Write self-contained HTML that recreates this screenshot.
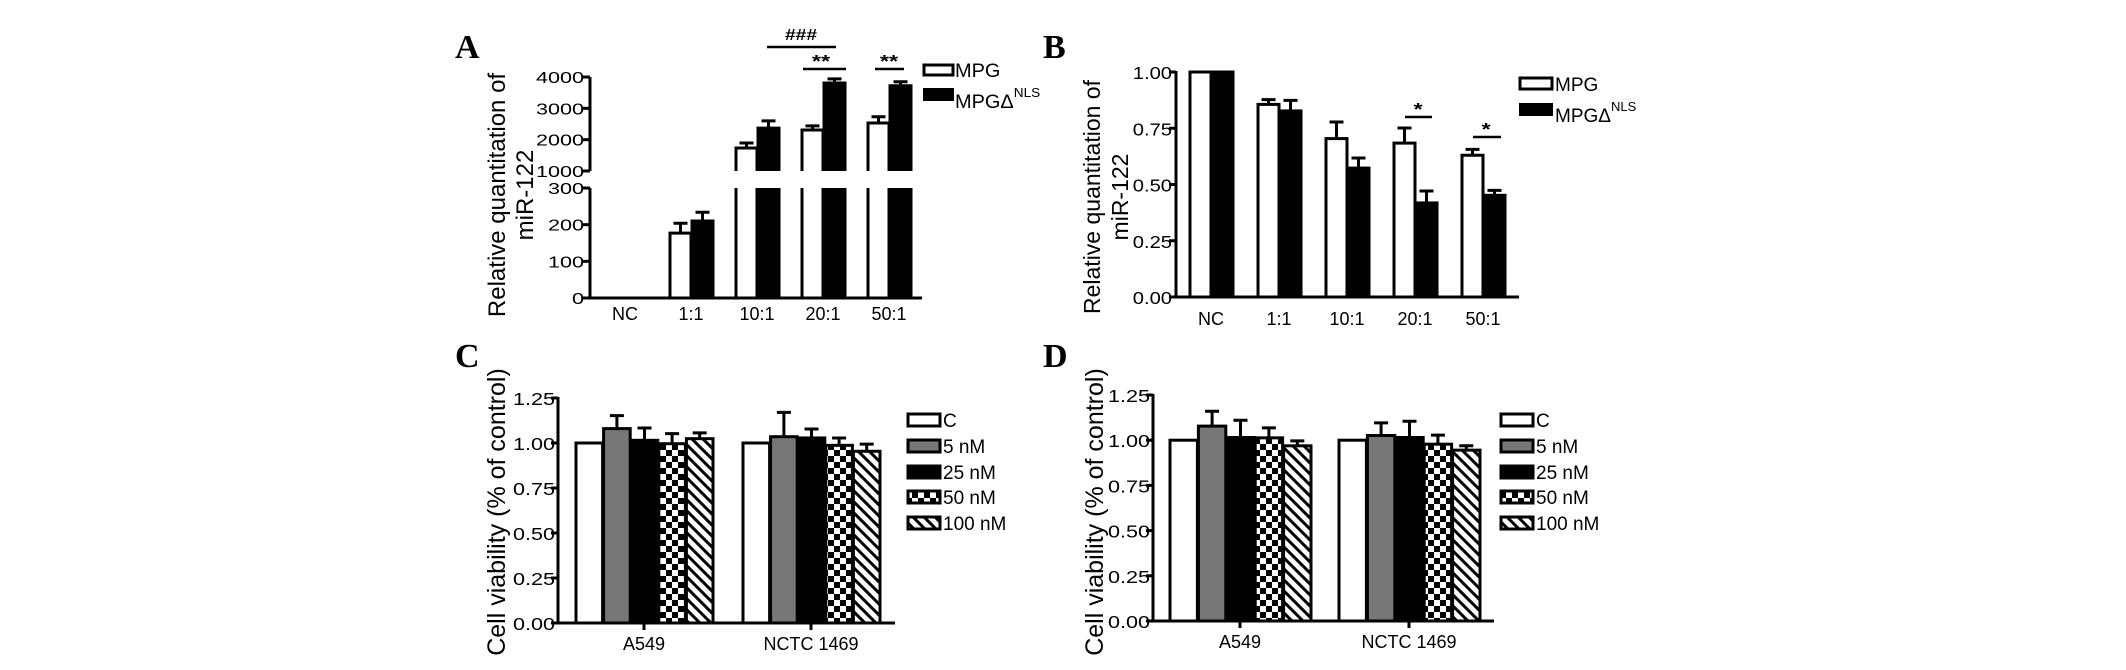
<!DOCTYPE html>
<html><head><meta charset="utf-8"><style>
html,body{margin:0;padding:0;background:#fff;}
svg{display:block;font-family:"Liberation Sans",Arial,sans-serif;}
.lbl{font-family:"Liberation Serif",serif;font-weight:bold;font-size:34px;}
</style></head><body>
<svg id="fig" width="2126" height="670" viewBox="0 0 2126 670" xmlns="http://www.w3.org/2000/svg">
<defs>
<pattern id="checker" patternUnits="userSpaceOnUse" width="12" height="12"><rect width="12" height="12" fill="#fff"/><rect width="6" height="6" fill="#000"/><rect x="6" y="6" width="6" height="6" fill="#000"/></pattern>
<pattern id="hatch" patternUnits="userSpaceOnUse" width="11" height="11"><rect width="11" height="11" fill="#fff"/><path d="M-2,-2 L13,13 M-2,9 L2,13 M9,-2 L13,2" stroke="#000" stroke-width="3"/></pattern>
</defs>
<text class="lbl" x="455" y="58">A</text>
<text class="lbl" x="1043" y="58">B</text>
<text class="lbl" x="455" y="367">C</text>
<text class="lbl" x="1043" y="367">D</text>
</svg>
<script>
const NS='http://www.w3.org/2000/svg';
const svg=document.getElementById('fig');
function el(tag,attrs,parent){const e=document.createElementNS(NS,tag);for(const k in attrs)e.setAttribute(k,attrs[k]);(parent||svg).appendChild(e);return e;}
function txt(s,x,y,size,anchor,sx,parent){const g=el('g',{transform:`translate(${x},${y}) scale(${sx||1},1)`},parent);const t=el('text',{x:0,y:0,'font-size':size,'text-anchor':anchor||'start'},g);t.textContent=s;return t;}
function sup(t,s,size,dy){const ts=el('tspan',{'font-size':size,dy:dy},t);ts.textContent=s;return ts;}

// ---------- Panel A data ----------
const catsA=['NC','1:1','10:1','20:1','50:1'];
const mpgA=[0,177,1735,2310,2530];
const mpgErrA=[0,27,160,130,200];
const nlsA=[0,210,2370,3810,3720];
const nlsErrA=[0,24,230,130,130];
const ticksLowA=[0,100,200,300];
const ticksHighA=[1000,2000,3000,4000];
// ---------- Panel B data ----------
const catsB=['NC','1:1','10:1','20:1','50:1'];
const mpgB=[1.0,0.856,0.704,0.684,0.630];
const mpgErrB=[0,0.021,0.074,0.067,0.026];
const nlsB=[1.0,0.827,0.573,0.418,0.452];
const nlsErrB=[0,0.047,0.045,0.053,0.022];
const ticksB=[0,0.25,0.5,0.75,1.0];
// ---------- Panel C data ----------
const groupsC=['A549','NCTC 1469'];
const seriesNames=['C','5 nM','25 nM','50 nM','100 nM'];
const valsC=[[1.0,1.08,1.015,0.996,1.024],[1.0,1.035,1.028,0.987,0.954]];
const errsC=[[0,0.072,0.068,0.056,0.032],[0,0.135,0.05,0.041,0.04]];
// ---------- Panel D data ----------
const groupsD=['A549','NCTC 1469'];
const valsD=[[1.0,1.078,1.015,1.013,0.969],[1.0,1.026,1.015,0.978,0.945]];
const errsD=[[0,0.082,0.095,0.055,0.027],[0,0.07,0.09,0.05,0.024]];
const ticksCD=[0,0.25,0.5,0.75,1.0,1.25];

const fills=['#fff','#777','#000','url(#checker)','url(#hatch)'];

function errBar(g,cx,yTop,yErr,name){
  const l=el('path',{d:`M${cx},${yTop} V${yErr} M${cx-7},${yErr} H${cx+7}`,stroke:'#000','stroke-width':3,fill:'none'},g);
  
  
}

// ================= Panel A =================
(function(){
  const g=el('g',{});
  
  
  const ax=590, y0=298, lowTop=188, hiBase=171, hiTop=77;
  const y=v=> v<=300 ? y0-(v/300)*(y0-lowTop) : hiBase-((v-1000)/3000)*(hiBase-hiTop);
  const cx=i=>625+i*66;
  const bw=22;
  catsA.forEach((c,i)=>{
    [[mpgA,mpgErrA,'#fff','mpg'],[nlsA,nlsErrA,'#000','mpg-nls']].forEach((s,k)=>{
      const v=s[0][i]; if(v<=0) return;
      const x=cx(i)-bw+k*bw;
      if(v<=300){
        const r=el('rect',{x:x+1,y:y(v),width:bw-1,height:y0-y(v),fill:s[2],stroke:'#000','stroke-width':3},g);
        
        
      } else {
        if(s[2]==='#000'){const rf=el('rect',{x:x+1,y:lowTop,width:bw-1,height:y0-lowTop,fill:'#000'},g);}
        const r1=el('path',{d:`M${x+1},${y0} V${lowTop} M${x+bw},${lowTop} V${y0}`,stroke:'#000','stroke-width':3,fill:'none'},g);
        
        
        const r2=el('path',{d:`M${x+1},${hiBase} V${y(v)} H${x+bw} V${hiBase}`,stroke:'#000','stroke-width':3,fill:s[2]},g);
        
        
      }
      errBar(g,x+bw/2+0.5,y(v),y(v+s[1][i]),'error-'+s[3]+'-'+c);
    });
    const t=txt(c,cx(i),320,18,'middle',1,g);
    
    
  });
  const axl=el('path',{d:`M${ax},${hiTop} V${hiBase} M${ax},${lowTop} V${y0} H922`,stroke:'#000','stroke-width':3,fill:'none'},g);
  
  
  ticksLowA.concat(ticksHighA).forEach(v=>{
    el('line',{x1:ax-7,x2:ax,y1:y(v),y2:y(v),stroke:'#000','stroke-width':3},g);
    const t=txt(String(v),ax-6,y(v)+6,16,'end',1.35,g);
    
    
  });
  const t1=txt('Relative quantitation of',0,0,24,'middle',1,g);
  t1.parentNode.setAttribute('transform','translate(505,195) rotate(-90)');
  
  
  const t2=txt('miR-122',0,0,24,'middle',1,g);
  t2.parentNode.setAttribute('transform','translate(533,195) rotate(-90)');
  
  
  const s1=el('path',{d:'M767,47 H836 M803,69 H846 M875,69 H904',stroke:'#000','stroke-width':2.5},g);
  
  
  const h=txt('###',801,40,16,'middle',1.2,g);h.setAttribute('font-weight','bold');
  
  
  const a1=txt('**',821,67,18,'middle',1.3,g);a1.setAttribute('font-weight','bold');
  
  
  const a2=txt('**',889,67,18,'middle',1.3,g);a2.setAttribute('font-weight','bold');
  
  
  const lb1=el('rect',{x:924,y:65,width:29,height:10,fill:'#fff',stroke:'#000','stroke-width':3},g);
  
  
  const lb2=el('rect',{x:923,y:88,width:31,height:13,fill:'#000'},g);
  
  
  const lt1=txt('MPG',955,77,19,'start',1.05,g);
  
  
  const lt2=txt('MPGΔ',955,108,19,'start',1.05,g);
  
  
  sup(lt2,'NLS',13,-11);
})();

// ================= Panel B =================
(function(){
  const g=el('g',{});
  
  
  const ax=1176, y0=297, y1=72;
  const y=v=>y0-v*(y0-y1);
  const cx=i=>1211+i*68;
  const bw=22;
  catsB.forEach((c,i)=>{
    [[mpgB,mpgErrB,'#fff','mpg'],[nlsB,nlsErrB,'#000','mpg-nls']].forEach((s,k)=>{
      const v=s[0][i];
      const x=cx(i)-bw+k*bw;
      const r=el('rect',{x:x+1,y:y(v),width:bw-1,height:y0-y(v),fill:s[2],stroke:'#000','stroke-width':3},g);
      
      
      if(s[1][i]>0) errBar(g,x+bw/2+0.5,y(v),y(v+s[1][i]),'error-'+s[3]+'-'+c);
    });
    const t=txt(c,cx(i),325,18,'middle',1,g);
    
    
  });
  const axl=el('path',{d:`M${ax},${y1-1} V${y0} H1519`,stroke:'#000','stroke-width':3,fill:'none'},g);
  
  
  ticksB.forEach(v=>{
    el('line',{x1:ax-7,x2:ax,y1:y(v),y2:y(v),stroke:'#000','stroke-width':3},g);
    const t=txt(v.toFixed(2),ax-4,y(v)+7,18,'end',1.12,g);
    
    
  });
  const t1=txt('Relative quantitation of',0,0,23,'middle',1,g);
  t1.parentNode.setAttribute('transform','translate(1100,197) rotate(-90)');
  
  
  const t2=txt('miR-122',0,0,23,'middle',1,g);
  t2.parentNode.setAttribute('transform','translate(1128,197) rotate(-90)');
  
  
  const s1=el('path',{d:'M1405,117 H1432 M1473,137 H1501',stroke:'#000','stroke-width':2.5},g);
  
  
  const a1=txt('*',1418,115,18,'middle',1.3,g);a1.setAttribute('font-weight','bold');
  
  
  const a2=txt('*',1486,135,18,'middle',1.3,g);a2.setAttribute('font-weight','bold');
  
  
  const lb1=el('rect',{x:1520,y:78,width:32,height:11,fill:'#fff',stroke:'#000','stroke-width':3},g);
  
  
  const lb2=el('rect',{x:1519,y:103,width:34,height:13,fill:'#000'},g);
  
  
  const lt1=txt('MPG',1555,91,19,'start',1.0,g);
  
  
  const lt2=txt('MPGΔ',1555,122,19,'start',1.0,g);
  
  
  sup(lt2,'NLS',13,-11);
})();

// ================= Panels C & D =================
function viability(cfg){
  const g=el('g',{});
  
  
  const {ax,y0,y125,xEnd,gStart,bw,gGap}=cfg;
  const y=v=>y0-(v/1.25)*(y0-y125);
  cfg.groups.forEach((gname,gi)=>{
    const x0=gStart+gi*gGap;
    cfg.vals[gi].forEach((v,si)=>{
      const x=x0+si*bw;
      const r=el('rect',{x:x+1,y:y(v),width:bw-1,height:y0-y(v),fill:fills[si],stroke:'#000','stroke-width':3},g);
      
      
      if(cfg.errs[gi][si]>0) errBar(g,x+bw/2+0.5,y(v),y(v+cfg.errs[gi][si]),'error-'+gname.replace(' ','-')+'-'+si);
    });
    const c=x0+bw*2.5;
    el('line',{x1:c,x2:c,y1:y0,y2:y0+7,stroke:'#000','stroke-width':3},g);
    const t=txt(gname,c,y0+27,18,'middle',1,g);
    
    
  });
  const axl=el('path',{d:`M${ax},${y125-1} V${y0} H${xEnd}`,stroke:'#000','stroke-width':3,fill:'none'},g);
  
  
  ticksCD.forEach(v=>{
    el('line',{x1:ax-7,x2:ax,y1:y(v),y2:y(v),stroke:'#000','stroke-width':3},g);
    const t=txt(v.toFixed(2),ax-3,y(v)+7,18,'end',1.2,g);
    
    
  });
  const t1=txt('Cell viability (% of control)',0,0,25,'middle',1,g);
  t1.parentNode.setAttribute('transform',`translate(${cfg.titleX},512) rotate(-90)`);
  
  
  const rows=[420,446,472,497,523];
  seriesNames.forEach((s,si)=>{
    const b=el('rect',{x:cfg.legX+1,y:rows[si]-6,width:32,height:12,fill:fills[si],stroke:'#000','stroke-width':3},g);
    
    
    const t=txt(s,cfg.legX+36,rows[si]+7,19,'start',1.0,g);
    
    
  });
}
viability({name:'panel-c-chart',groups:groupsC,vals:valsC,errs:errsC,ax:558,y0:623,y125:398,xEnd:895,gStart:575,bw:27.6,gGap:167,titleX:505,legX:907});
viability({name:'panel-d-chart',groups:groupsD,vals:valsD,errs:errsD,ax:1153,y0:621,y125:395,xEnd:1494,gStart:1169,bw:28.4,gGap:169,titleX:1103,legX:1500});
</script>
</body></html>
